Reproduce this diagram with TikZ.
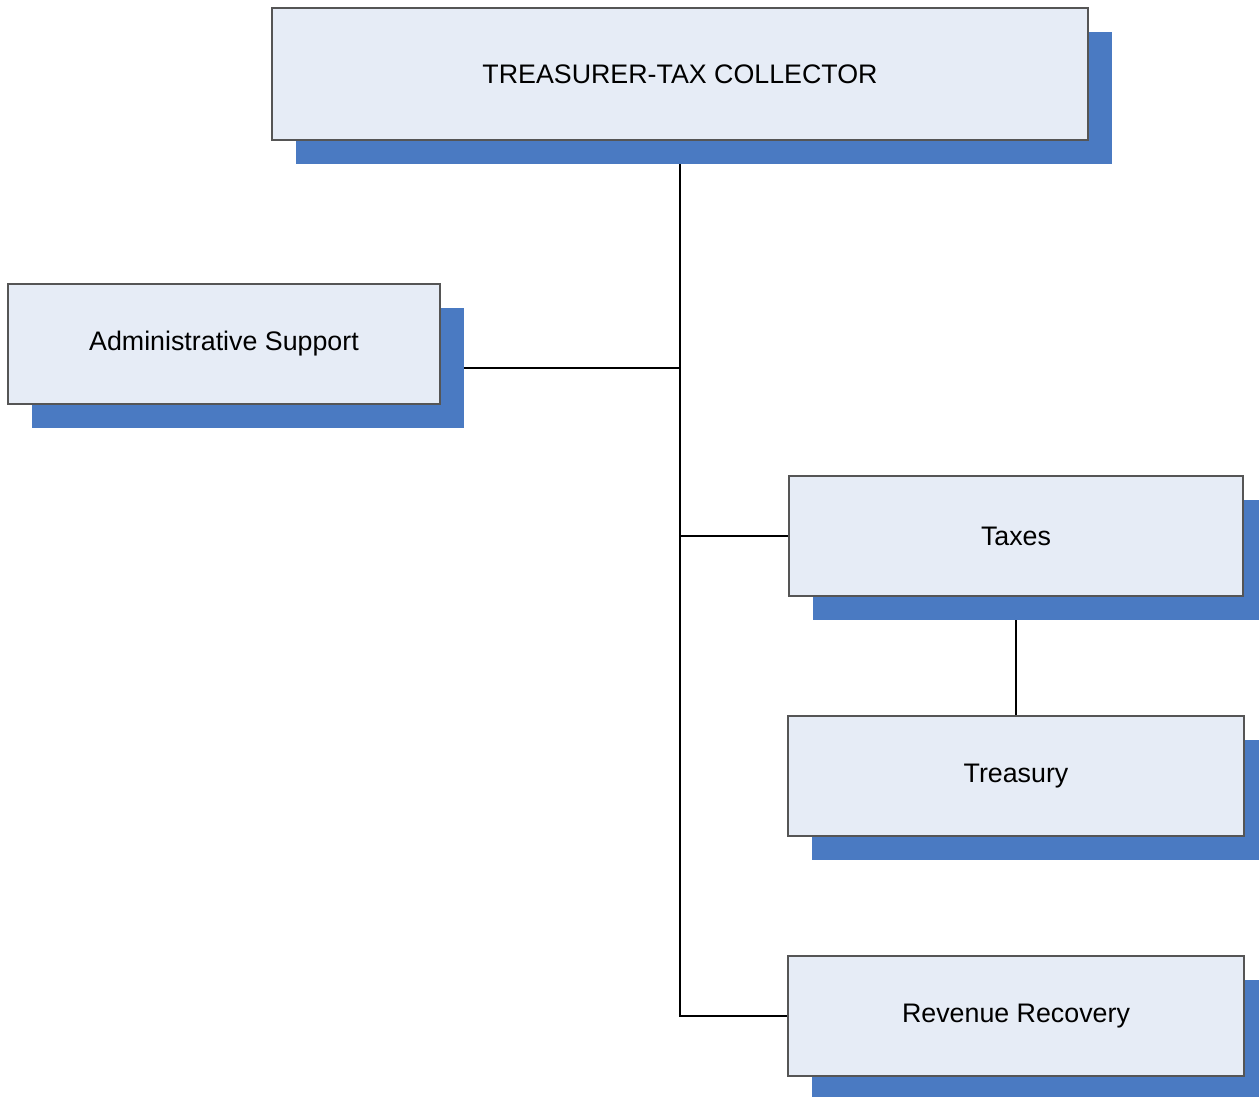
\documentclass[tikz,border=0pt]{standalone}
\usepackage{fontspec}
\setmainfont{Liberation Sans}
\usetikzlibrary{shadows,backgrounds}
\definecolor{boxfill}{HTML}{E6ECF6}
\definecolor{boxshadow}{HTML}{4A7AC2}
\definecolor{boxline}{HTML}{555555}
\tikzset{
  unitbox/.style={draw=boxline, line width=1.5pt, fill=boxfill, inner sep=0pt,
    font=\fontsize{26.8}{30}\selectfont, text=black,
    drop shadow={shadow xshift=24pt, shadow yshift=-24pt, fill=boxshadow, opacity=1}},
  conn/.style={draw=black, line width=2pt}
}
\begin{document}
\begin{tikzpicture}[x=1pt,y=1pt]
\useasboundingbox (0,0) rectangle (1259,-1096);
\node[unitbox, minimum width=816pt, minimum height=132pt] (top) at (680,-74) {TREASURER-TAX COLLECTOR};
\node[unitbox, minimum width=432pt, minimum height=120pt] (admin) at (224,-344) {Administrative Support};
\node[unitbox, minimum width=454pt, minimum height=120pt] (taxes) at (1016,-536) {Taxes};
\node[unitbox, minimum width=456pt, minimum height=120pt] (treas) at (1016,-776) {Treasury};
\node[unitbox, minimum width=456pt, minimum height=120pt] (rev) at (1016,-1016) {Revenue Recovery};
\coordinate (adm) at ([yshift=-24pt]admin.east);
\begin{scope}[on background layer]
\draw[conn] (top.south) |- (rev.west);
\draw[conn] (adm) -- (adm -| top.south);
\draw[conn] (taxes.west) -- (taxes.west -| top.south);
\draw[conn] (taxes.south) -- (treas.north);
\end{scope}
\end{tikzpicture}
\end{document}
